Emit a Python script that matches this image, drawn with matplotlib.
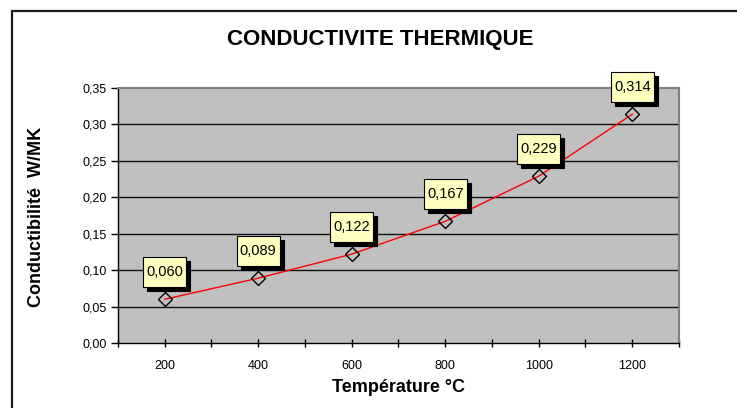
import matplotlib
matplotlib.use("Agg")
import matplotlib.pyplot as plt
from matplotlib.patches import Rectangle
from matplotlib.transforms import ScaledTranslation

temperatures = [200, 400, 600, 800, 1000, 1200]
conductivity = [0.060, 0.089, 0.122, 0.167, 0.229, 0.314]
value_labels = ["0,060", "0,089", "0,122", "0,167", "0,229", "0,314"]
y_ticks = [0.00, 0.05, 0.10, 0.15, 0.20, 0.25, 0.30, 0.35]
y_tick_labels = ["0,00", "0,05", "0,10", "0,15", "0,20", "0,25", "0,30", "0,35"]
x_ticks = [100, 200, 300, 400, 500, 600, 700, 800, 900, 1000, 1100, 1200, 1300]
x_tick_labels = ["", "200", "", "400", "", "600", "", "800", "", "1000", "", "1200", ""]

plt.rcParams['font.family'] = ['Liberation Sans', 'DejaVu Sans']

W, H = 737, 408
fig = plt.figure(figsize=(W / 100, H / 100), dpi=100)
fig.patch.set_facecolor('white')

# outer chart border
fig.patches.append(Rectangle((12 / W, -0.2), 1.2, (1 - 11 / H) + 0.2,
                             transform=fig.transFigure, fill=False,
                             edgecolor='#1a1a1a', linewidth=1.6, zorder=0))

ax = fig.add_axes([118 / W, 1 - 343 / H, (679 - 118) / W, (343 - 88) / H])
ax.set_facecolor('#C0C0C0')
ax.set_xlim(100, 1300)
ax.set_ylim(0, 0.35)

for y in y_ticks[1:-1]:
    ax.axhline(y, color='#101010', linewidth=1.0, zorder=1)

ax.spines['top'].set_color('#808080')
ax.spines['right'].set_color('#808080')
ax.spines['top'].set_linewidth(1.5)
ax.spines['right'].set_linewidth(1.5)
ax.spines['left'].set_color('black')
ax.spines['bottom'].set_color('black')
ax.spines['left'].set_linewidth(1.0)
ax.spines['bottom'].set_linewidth(1.0)

ax.set_yticks(y_ticks)
ax.set_yticklabels(y_tick_labels, fontsize=9)
ax.set_xticks(x_ticks)
ax.set_xticklabels(x_tick_labels, fontsize=9)
ax.tick_params(axis='y', direction='out', length=5, width=1, pad=3)
ax.tick_params(axis='x', direction='inout', length=6, width=1, pad=9)

ax.plot(temperatures, conductivity, color='red', linewidth=1.0, zorder=3)
ax.plot(temperatures, conductivity, linestyle='none', marker='D', markersize=7,
        markerfacecolor='none', markeredgecolor='black', markeredgewidth=1.0, zorder=4)

# data label boxes: sizes in pixels relative to the data point
bw, bh, gap, sh = 43, 30, 12, 4
for x, y, lab in zip(temperatures, conductivity, value_labels):
    trans = fig.dpi_scale_trans + ScaledTranslation(x, y, ax.transData)
    shadow = Rectangle(((-bw / 2 + sh) / 100, (gap - sh) / 100), bw / 100, bh / 100,
                       transform=trans, facecolor='black', edgecolor='black',
                       linewidth=0.8, zorder=5, clip_on=False)
    box = Rectangle((-bw / 2 / 100, gap / 100), bw / 100, bh / 100,
                    transform=trans, facecolor='#FFFFC0', edgecolor='black',
                    linewidth=0.8, zorder=6, clip_on=False)
    ax.add_patch(shadow)
    ax.add_patch(box)
    ax.text(0, (gap + bh / 2) / 100, lab, transform=trans, ha='center', va='center',
            fontsize=10.5, color='black', zorder=7, clip_on=False)

fig.text(380 / W, 1 - 39 / H, "CONDUCTIVITE THERMIQUE", ha='center', va='center',
         fontsize=16, fontweight='bold')
fig.text(399 / W, 1 - 387 / H, "Température °C", ha='center', va='center',
         fontsize=13, fontweight='bold')
fig.text(37 / W, 1 - 217 / H, "Conductibilité  W/MK", ha='center', va='center',
         rotation=90, fontsize=13, fontweight='bold')

fig.savefig("out.png", dpi=100)
